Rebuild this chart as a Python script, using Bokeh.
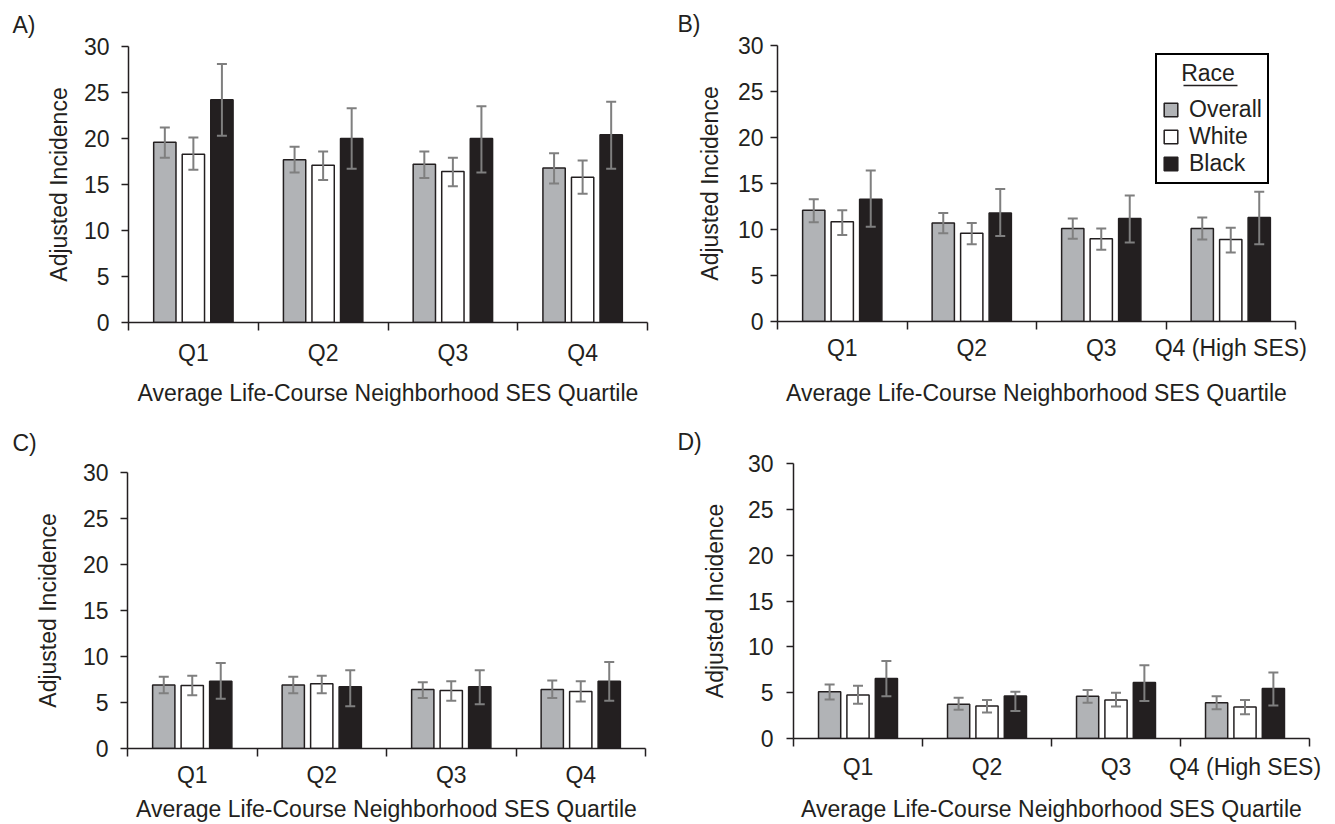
from bokeh.plotting import figure
from bokeh.models import (Range1d, FixedTicker, ColumnDataSource, Whisker, TeeHead,
                          Legend, LegendItem)
from bokeh.layouts import row, column
from bokeh.embed import file_html
from bokeh.resources import INLINE

# ---------------- data ----------------
quartiles_plain = ["Q1", "Q2", "Q3", "Q4"]
quartiles_ses = ["Q1", "Q2", "Q3", "Q4 (High SES)"]
y_ticks = [0, 5, 10, 15, 20, 25, 30]
race_labels = ["Overall", "White", "Black"]
x_title = "Average Life-Course Neighborhood SES Quartile"
y_title = "Adjusted Incidence"

# Panel A
a_overall = [19.6, 17.7, 17.2, 16.8]
a_overall_lo = [17.9, 16.3, 15.7, 15.1]
a_overall_hi = [21.2, 19.1, 18.6, 18.4]
a_white = [18.3, 17.1, 16.4, 15.8]
a_white_lo = [16.6, 15.5, 14.8, 14.0]
a_white_hi = [20.1, 18.6, 17.9, 17.6]
a_black = [24.2, 20.0, 20.0, 20.4]
a_black_lo = [20.3, 16.7, 16.3, 16.7]
a_black_hi = [28.1, 23.3, 23.5, 24.0]

# Panel B
b_overall = [12.1, 10.7, 10.1, 10.1]
b_overall_lo = [10.8, 9.6, 9.0, 8.9]
b_overall_hi = [13.3, 11.8, 11.2, 11.3]
b_white = [10.85, 9.6, 9.0, 8.9]
b_white_lo = [9.4, 8.4, 7.8, 7.5]
b_white_hi = [12.1, 10.7, 10.1, 10.2]
b_black = [13.3, 11.8, 11.2, 11.3]
b_black_lo = [10.3, 9.3, 8.6, 8.4]
b_black_hi = [16.4, 14.4, 13.7, 14.1]

# Panel C
c_overall = [6.9, 6.9, 6.4, 6.4]
c_overall_lo = [6.0, 6.0, 5.5, 5.5]
c_overall_hi = [7.8, 7.8, 7.2, 7.4]
c_white = [6.85, 7.05, 6.3, 6.2]
c_white_lo = [5.8, 6.0, 5.2, 5.1]
c_white_hi = [7.9, 7.9, 7.3, 7.3]
c_black = [7.3, 6.7, 6.7, 7.3]
c_black_lo = [5.4, 4.6, 4.8, 5.2]
c_black_hi = [9.3, 8.5, 8.5, 9.4]

# Panel D
d_overall = [5.1, 3.75, 4.6, 3.9]
d_overall_lo = [4.25, 3.15, 3.9, 3.2]
d_overall_hi = [5.9, 4.45, 5.3, 4.6]
d_white = [4.75, 3.55, 4.2, 3.45]
d_white_lo = [3.8, 2.85, 3.5, 2.65]
d_white_hi = [5.75, 4.2, 5.0, 4.2]
d_black = [6.55, 4.65, 6.1, 5.45]
d_black_lo = [4.6, 3.0, 4.1, 3.6]
d_black_hi = [8.45, 5.1, 8.0, 7.2]

# ---------------- style ----------------
FONT = "Liberation Sans"
FS = "23px"
INK = "#231F20"
FILLS = ["#B1B3B6", "#FFFFFF", "#231F20"]
ERR = "#7F7F7F"
OFFSETS = [-0.22, 0.0, 0.22]
BAR_W = 0.172


def make_panel(tag, qlabels, data, g, legend=False):
    p = figure(width=g["w"], height=g["h"], x_range=Range1d(0, 4), y_range=Range1d(0, 30),
               output_backend="svg", toolbar_location=None, tools="",
               min_border_left=g["bl"], min_border_right=g["br"],
               min_border_top=g["bt"], min_border_bottom=g["bb"])
    p.outline_line_color = None
    p.grid.visible = False
    p.background_fill_color = "white"
    p.border_fill_color = "white"

    # panel letter as a left-aligned title shifted over the y axis
    p.title.text = tag
    p.title.align = "left"
    p.title.offset = g["lx"]
    p.title.standoff = g["ts"]
    p.title.text_font = FONT
    p.title.text_font_size = FS
    p.title.text_font_style = "normal"
    p.title.text_color = INK

    rends = []
    for k, (vals, lo, hi) in enumerate(data):
        xs = [i + 0.5 + OFFSETS[k] for i in range(len(vals))]
        src = ColumnDataSource(dict(x=xs, top=vals, lo=lo, hi=hi))
        r = p.vbar(x="x", top="top", bottom=0, width=BAR_W, source=src,
                   fill_color=FILLS[k], line_color=INK, line_width=1.5)
        rends.append(r)
        wk = Whisker(source=src, base="x", upper="hi", lower="lo",
                     line_color=ERR, line_width=2, level="annotation",
                     upper_head=TeeHead(size=10, line_color=ERR, line_width=2),
                     lower_head=TeeHead(size=10, line_color=ERR, line_width=2))
        p.add_layout(wk)

    xa = p.xaxis[0]
    xa.ticker = FixedTicker(ticks=[i + 0.5 for i in range(len(qlabels))],
                            minor_ticks=list(range(len(qlabels) + 1)))
    xa.major_label_overrides = {i + 0.5: lab for i, lab in enumerate(qlabels)}
    xa.major_tick_line_color = None
    xa.major_tick_out = 8
    xa.major_tick_in = 0
    xa.minor_tick_line_color = INK
    xa.minor_tick_line_width = 1.5
    xa.minor_tick_out = 8
    xa.minor_tick_in = 0
    xa.major_label_standoff = g["xls"]
    xa.axis_label = x_title
    xa.axis_label_standoff = g["xas"]

    ya = p.yaxis[0]
    ya.ticker = FixedTicker(ticks=y_ticks, minor_ticks=[])
    ya.major_tick_out = 7
    ya.major_tick_in = 0
    ya.major_tick_line_color = INK
    ya.major_tick_line_width = 1.5
    ya.minor_tick_line_color = None
    ya.major_label_standoff = g["yls"]
    ya.axis_label = y_title
    ya.axis_label_standoff = g["yas"]

    for ax in (xa, ya):
        ax.axis_line_color = INK
        ax.axis_line_width = 1.5
        ax.major_label_text_font = FONT
        ax.major_label_text_font_size = FS
        ax.major_label_text_color = INK
        ax.axis_label_text_font = FONT
        ax.axis_label_text_font_size = FS
        ax.axis_label_text_font_style = "normal"
        ax.axis_label_text_color = INK

    if legend:
        # underline of the legend title (drawn under a transparent legend box)
        p.segment(x0=[3.135], y0=[25.65], x1=[3.552], y1=[25.65],
                  line_color=INK, line_width=1.5)
        items = [LegendItem(label=race_labels[k], renderers=[rends[k]]) for k in range(3)]
        leg = Legend(items=items, location=(378, 137),
                     title="\u00a0\u00a0\u00a0Race",
                     title_text_font=FONT, title_text_font_size=FS,
                     title_text_font_style="normal", title_text_color=INK,
                     title_standoff=9,
                     label_text_font=FONT, label_text_font_size=FS, label_text_color=INK,
                     glyph_width=17, glyph_height=17, label_standoff=10,
                     padding=5, spacing=0, margin=0,
                     border_line_color="black", border_line_width=2, border_line_alpha=1,
                     background_fill_alpha=0)
        p.add_layout(leg)
    return p


gA = dict(w=668, h=410, bl=128, br=21, bt=45, bb=88, yls=12, yas=9, xls=9, xas=11, lx=-116, ts=18)
gB = dict(w=665, h=410, bl=109, br=38, bt=44, bb=89, yls=7, yas=12, xls=5, xas=16, lx=-100, ts=17)
gC = dict(w=668, h=414, bl=127, br=23, bt=62, bb=76, yls=12, yas=19, xls=5, xas=5, lx=-115, ts=34)
gD = dict(w=665, h=414, bl=125, br=24, bt=53, bb=86, yls=13, yas=17, xls=7, xas=13, lx=-116, ts=18)

pA = make_panel("A)", quartiles_plain,
                [(a_overall, a_overall_lo, a_overall_hi), (a_white, a_white_lo, a_white_hi),
                 (a_black, a_black_lo, a_black_hi)], gA)
pB = make_panel("B)", quartiles_ses,
                [(b_overall, b_overall_lo, b_overall_hi), (b_white, b_white_lo, b_white_hi),
                 (b_black, b_black_lo, b_black_hi)], gB, legend=True)
pC = make_panel("C)", quartiles_plain,
                [(c_overall, c_overall_lo, c_overall_hi), (c_white, c_white_lo, c_white_hi),
                 (c_black, c_black_lo, c_black_hi)], gC)
pD = make_panel("D)", quartiles_ses,
                [(d_overall, d_overall_lo, d_overall_hi), (d_white, d_white_lo, d_white_hi),
                 (d_black, d_black_lo, d_black_hi)], gD)

# each plot wrapped in its own column so the frames are not aligned across a row
layout = column(row(column(pA), column(pB)), row(column(pC), column(pD)))
open("out.html", "w").write(file_html(layout, INLINE))
